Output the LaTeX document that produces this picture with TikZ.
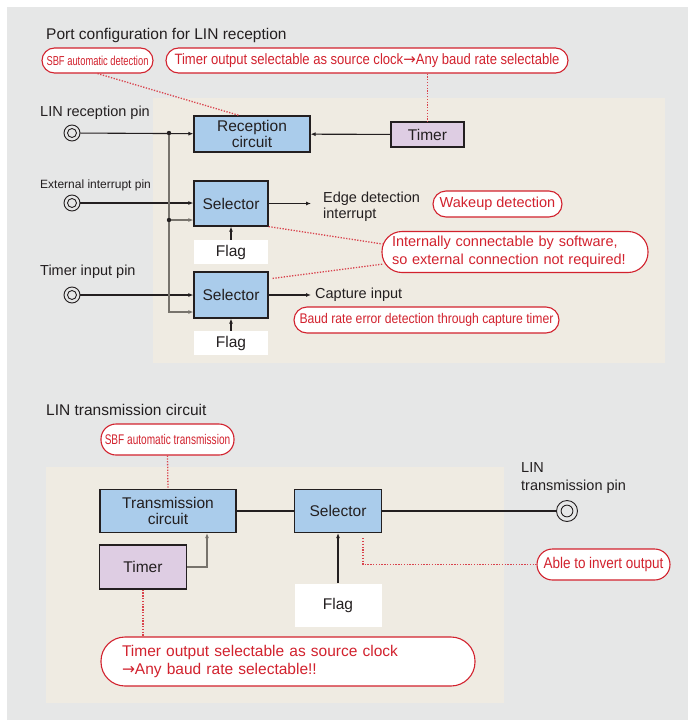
\documentclass[tikz,border=0pt]{standalone}
\usepackage{fontspec}
\setmainfont{Liberation Sans}
\newfontfamily\condfont[FakeStretch=0.87]{Liberation Sans}
\newfontfamily\narrowfont[FakeStretch=0.72]{Liberation Sans}
\newfontfamily\arrowfont{DejaVu Sans}
\usetikzlibrary{positioning,arrows.meta,calc}
\definecolor{bgray}{HTML}{E6E7E7}
\definecolor{beige}{HTML}{EFEBE2}
\definecolor{boxblue}{HTML}{AACCEB}
\definecolor{boxlilac}{HTML}{DECDE3}
\definecolor{notered}{HTML}{D2222E}
\definecolor{ink}{HTML}{231F20}
\definecolor{wiregray}{HTML}{77736C}
\newcommand{\toarrow}{{\arrowfont →}}

\begin{document}
\begin{tikzpicture}[x=1pt, y=-1pt,
  txt/.style={font=\fontsize{14.5}{17}\selectfont, text=ink, inner sep=0},
  box/.style={draw=ink, line width=1.2pt, inner sep=0, text=ink, align=center,
              font=\fontsize{15.5}{16.5}\selectfont},
  blk/.style={box, fill=boxblue}, tmr/.style={box, fill=boxlilac},
  flg/.style={box, draw=none, fill=white},
  bub/.style={draw=notered, line width=1.1pt, fill=white, text=notered,
              rounded corners=#1, inner sep=0},
  bub/.default=12.5pt,
  pinc/.style={circle, draw=ink, line width=0.9pt, minimum size=#1, inner sep=0},
  wire/.style={draw=ink, line width=1.1pt},
  arr/.style={wire, -{Latex[length=5pt,width=4pt]}},
  garr/.style={draw=wiregray, line width=1.6pt, -{Latex[length=5pt,width=4pt]}},
  redline/.style={draw=notered!85, line width=1.3pt, dash pattern=on 1.3pt off 1.5pt}]
\newcommand{\pinmark}[4]{% name, x, y, diameter
  \node[pinc=#4] (#1) at (#2,#3) {};
  \draw[ink, line width=0.9pt] (#1) circle (#4*0.28);}
% backgrounds
\fill[white] (0,0) rectangle (688,720);
\fill[bgray] (7,7) rectangle (688,720);
\fill[beige] (153,98) rectangle (665,363);
\fill[beige] (46,467) rectangle (504,703);
\useasboundingbox (0,0) rectangle (688,720);

% LIN reception
\node[txt, anchor=west, font=\fontsize{15.5}{18}\selectfont] (ttlrx) at (46,35)
  {Port configuration for LIN reception};
\node[bub, minimum width=111pt, minimum height=25pt,
  font=\narrowfont\fontsize{13}{15}\selectfont] (sbfrx) at (97.5,60.5) {SBF automatic detection};
\node[bub, minimum width=402pt, minimum height=25pt,
  font=\condfont\fontsize{15}{17}\selectfont] (clkrx) at (367,60.5)
  {Timer output selectable as source clock\toarrow Any baud rate selectable};
\node[blk, minimum width=116pt, minimum height=36pt] (recv) at (252,134) {Reception\\circuit};
\node[tmr, minimum width=73pt, minimum height=25pt] (tmrrx) at (427.5,134.5) {Timer};

\node[txt, anchor=west] (lblrx) at (40,113) {LIN reception pin};
\pinmark{pinrx}{72}{133}{16}
\node[txt, anchor=west, font=\fontsize{12}{14}\selectfont] (lblint) at (40,185) {External interrupt pin};
\pinmark{pinint}{72}{203}{16}
\node[txt, anchor=west] (lbltmr) at (40,272) {Timer input pin};
\pinmark{pintmr}{72}{295}{16}

\node[blk, minimum width=74pt, minimum height=45pt] (sel1) at (231,203.5) {Selector};
\node[flg, minimum width=74pt, minimum height=24pt, below=13pt of sel1] (flag1) {Flag};
\node[blk, minimum width=74pt, minimum height=46pt] (sel2) at (231,295) {Selector};
\node[flg, minimum width=74pt, minimum height=24pt, below=12pt of sel2] (flag2) {Flag};

\node[txt, anchor=west, align=left, inner xsep=12pt, font=\fontsize{14.5}{16}\selectfont]
  (edge) at (311,207) {Edge detection\\interrupt};
\node[txt, anchor=west, inner xsep=4pt] (capt) at (311,295) {Capture input};
\node[bub=13pt, minimum width=129pt, minimum height=26pt, font=\fontsize{14.5}{17}\selectfont]
  (wake) at (497.5,204) {Wakeup detection};
\node[bub=20pt, minimum height=41pt, text width=246pt, inner xsep=10pt, align=left,
  font=\fontsize{14.5}{18}\selectfont] (intl) at (515,252)
  {Internally connectable by software,\\so external connection not required!};
\node[bub=13pt, minimum width=265pt, minimum height=26pt,
  font=\condfont\fontsize{14}{16}\selectfont] (baud) at (426.5,320)
  {Baud rate error detection through capture timer};

\draw[arr] (pinrx) -- (recv);
\draw[arr] (tmrrx) -- (recv);
\draw[arr] (pinint) -- (pinint -| sel1.west);
\draw[arr] (pintmr) -- (sel2);
\coordinate (jn) at (169,133);
\coordinate (in1) at ($(sel1.west)+(0,16.5)$);
\coordinate (in2) at ($(sel2.west)+(0,17)$);
\draw[garr] (jn) |- (in2);
\draw[garr] (jn |- in1) -- (in1);
\fill[ink] (jn) circle (2.2) (jn |- in1) circle (2.2);
\draw[arr] (sel1.east) -- (sel1.east -| edge.west);
\draw[arr] (sel2) -- (capt);
\draw[arr] (flag1) -- (sel1);
\draw[arr] (flag2) -- (sel2);

\draw[redline] (sbfrx.south) -- ($(recv.north)+(-13,0)$);
\draw[redline] (tmrrx.north |- clkrx.south) -- (tmrrx.north);
\draw[redline] (sel1.south east) -- ($(intl.west)+(1,-8)$);
\draw[redline] ($(sel2.north east)+(4,7)$) -- ($(intl.west)+(2,12)$);

% LIN transmission
\node[txt, anchor=west, font=\fontsize{15.5}{18}\selectfont] (ttltx) at (46,410)
  {LIN transmission circuit};
\node[bub=15pt, minimum width=133pt, minimum height=31pt,
  font=\narrowfont\fontsize{14}{16}\selectfont] (sbftx) at (167.5,439.5) {SBF automatic transmission};
\node[blk, minimum width=136pt, minimum height=43pt] (trans) at (168,511) {Transmission\\circuit};
\node[blk, minimum width=87pt, minimum height=43pt] (seltx) at (338,511) {Selector};
\node[tmr, minimum width=87pt, minimum height=44pt] (tmrtx) at (143,567) {Timer};
\node[flg, minimum width=87pt, minimum height=43pt, below=50pt of seltx] (flagtx) {Flag};
\node[txt, anchor=west, align=left, font=\fontsize{14.5}{17.5}\selectfont] (lbltx) at (521,478)
  {LIN\\transmission pin};
\pinmark{pintx}{567}{511}{21}
\node[bub=15.5pt, minimum width=133pt, minimum height=31pt,
  font=\condfont\fontsize{15.5}{17}\selectfont] (inv) at (603.5,564.5) {Able to invert output};
\node[bub=24pt, minimum height=49pt, text width=332pt, inner xsep=21pt, align=left,
  font=\fontsize{15.5}{18.5}\selectfont] (clktx) at (288,661.5)
  {Timer output selectable as source clock\\\toarrow Any baud rate selectable!!};

\draw[wire] (trans) -- (seltx);
\draw[wire] (seltx) -- (pintx);
\draw[garr] (tmrtx.east) -| ($(trans.south)+(39,0)$);
\draw[arr] (flagtx) -- (seltx);

\draw[redline] (sbftx.south) -- (trans.north);
\draw[redline] ($(seltx.south)+(25,5)$) |- (inv);
\draw[redline] (tmrtx.south) -- (tmrtx.south |- clktx.north);
\end{tikzpicture}
\end{document}
